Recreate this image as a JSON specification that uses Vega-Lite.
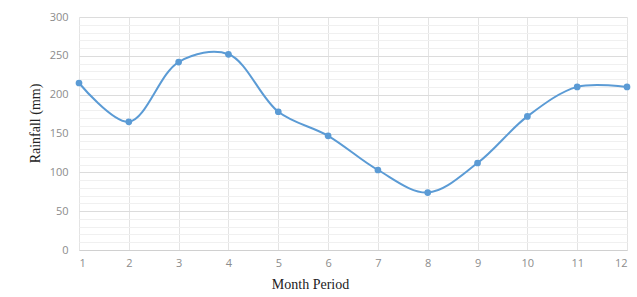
{
  "$schema": "https://vega.github.io/schema/vega-lite/v6.json",
  "width": 548,
  "height": 233,
  "autosize": "none",
  "padding": {"left": 79, "top": 17, "right": 10, "bottom": 47},
  "background": "white",
  "config": {"view": {"stroke": null}},
  "data": {"values": [
    {"month": 1, "rainfall": 215},
    {"month": 2, "rainfall": 165},
    {"month": 3, "rainfall": 242},
    {"month": 4, "rainfall": 252},
    {"month": 5, "rainfall": 178},
    {"month": 6, "rainfall": 147},
    {"month": 7, "rainfall": 103},
    {"month": 8, "rainfall": 74},
    {"month": 9, "rainfall": 112},
    {"month": 10, "rainfall": 172},
    {"month": 11, "rainfall": 210},
    {"month": 12, "rainfall": 210}
  ]},
  "encoding": {
    "x": {"field": "month", "type": "quantitative",
      "scale": {"domain": [1, 12], "nice": false, "zero": false},
      "axis": {"values": [1,2,3,4,5,6,7,8,9,10,11,12], "title": "Month Period",
        "titleFont": "Liberation Serif", "titleFontSize": 14, "titleFontWeight": "normal", "titleColor": "#222",
        "titlePadding": 9, "titleX": 231,
        "labelFont": "Open Sans", "labelFontSize": 11, "labelColor": "#8c8c8c", "labelPadding": 7,
        "ticks": false, "domainColor": "#d0d0d0", "gridColor": "#e4e4e4", "grid": true}},
    "y": {"field": "rainfall", "type": "quantitative",
      "scale": {"domain": [0, 300], "nice": false},
      "axis": {"values": [0,10,20,30,40,50,60,70,80,90,100,110,120,130,140,150,160,170,180,190,200,210,220,230,240,250,260,270,280,290,300],
        "labelExpr": "datum.value % 50 === 0 ? datum.label : ''",
        "gridColor": {"condition": {"test": "datum.value % 50 === 0", "value": "#dcdcdc"}, "value": "#f0f0f0"},
        "title": "Rainfall (mm)",
        "titleFont": "Liberation Serif", "titleFontSize": 14, "titleFontWeight": "normal", "titleColor": "#222",
        "titlePadding": 7, "titleY": 106,
        "labelFont": "Open Sans", "labelFontSize": 11, "labelColor": "#8c8c8c", "labelPadding": 11,
        "ticks": false, "domain": false}}
  },
  "layer": [
    {"mark": {"type": "line", "interpolate": "catmull-rom", "color": "#5b9bd5", "strokeWidth": 2}},
    {"mark": {"type": "point", "filled": true, "opacity": 1, "color": "#5b9bd5", "size": 45}}
  ]
}
